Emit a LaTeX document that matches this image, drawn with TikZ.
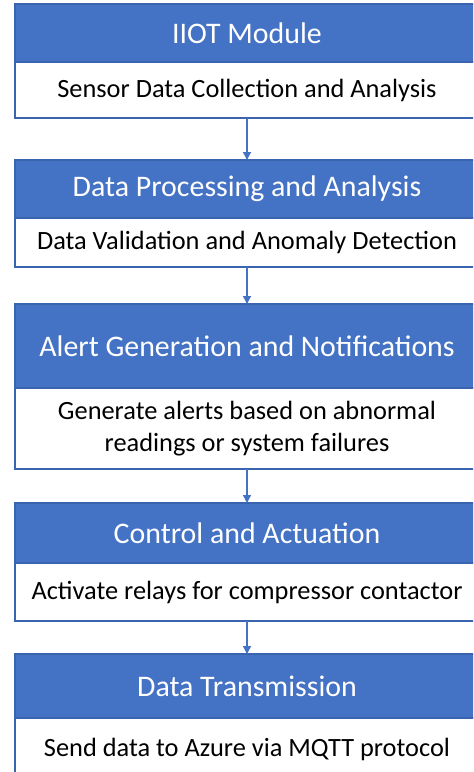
\documentclass[tikz,border=0pt]{standalone}
\usepackage{fontspec}
\setmainfont{Carlito}
\usetikzlibrary{arrows.meta,positioning}

\definecolor{headblue}{HTML}{4472C4}
\definecolor{edgeblue}{HTML}{3A64AE}

\begin{document}
\begin{tikzpicture}[
    head/.style={draw=edgeblue, line width=0.6pt, fill=headblue, text=white, minimum width=9.28cm, inner sep=0pt, outer sep=0pt, align=center, font=\fontsize{17}{20}\selectfont},
    body/.style={draw=edgeblue, line width=0.6pt, fill=white, text=black, minimum width=9.28cm, inner sep=0pt, outer sep=0pt, align=center, font=\fontsize{15}{18}\selectfont},
    arrow/.style={-{Triangle[length=1.6mm, width=1.6mm]}, draw=headblue, line width=0.8pt}
]
\clip (0,0) rectangle (9.46,-15.44);

% IIOT module
\node[head, minimum height=1.16cm] (iiot) at (4.94,-0.66) {IIOT Module};
\node[body, minimum height=1.12cm, below=0pt of iiot] (iiotbody) {Sensor Data Collection and Analysis};

% Processing
\node[head, minimum height=1.16cm, below=0.84cm of iiotbody] (proc) {Data Processing and Analysis};
\node[body, minimum height=0.98cm, below=0pt of proc] (procbody) {Data Validation and Anomaly Detection};
\draw[arrow] (iiotbody) -- (proc);

% Alerts
\node[head, minimum height=1.68cm, below=0.74cm of procbody] (alert) {Alert Generation and Notifications};
\node[body, minimum height=1.62cm, below=0pt of alert] (alertbody) {Generate alerts based on abnormal\\readings or system failures};
\draw[arrow] (procbody) -- (alert);

% Control
\node[head, minimum height=1.2cm, below=0.68cm of alertbody] (ctrl) {Control and Actuation};
\node[body, minimum height=1.16cm, below=0pt of ctrl] (ctrlbody) {Activate relays for compressor contactor};
\draw[arrow] (alertbody) -- (ctrl);

% Transmission
\node[head, minimum height=1.28cm, below=0.66cm of ctrlbody] (trans) {Data Transmission};
\node[body, minimum height=1.24cm, below=0pt of trans] (transbody) {Send data to Azure via MQTT protocol};
\draw[arrow] (ctrlbody) -- (trans);

\end{tikzpicture}
\end{document}
